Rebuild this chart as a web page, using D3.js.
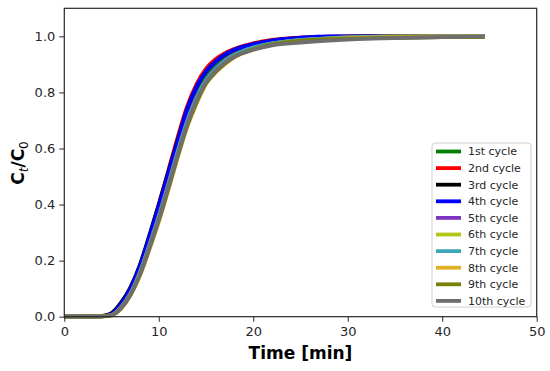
<!DOCTYPE html>
<html>
<head>
<meta charset="utf-8">
<script src="https://cdn.jsdelivr.net/npm/d3@7"></script>
<style>
  body { margin: 0; background: #fff; }
  svg { font-family: "DejaVu Sans", sans-serif; }
</style>
</head>
<body>
<div id="container"></div>
<script>

// time grid (min) shared by all cycles
var times = [0, 2, 4, 5, 6, 7, 8, 9, 10, 11, 12, 13, 14, 15, 16, 17, 18, 20, 22, 25, 28, 31, 35, 40, 44.5];

var cycle1  = [0, 0, 0.002, 0.010, 0.040, 0.095, 0.175, 0.275, 0.385, 0.500, 0.615, 0.725, 0.810, 0.865, 0.900, 0.930, 0.948, 0.968, 0.980, 0.990, 0.995, 0.997, 0.998, 0.999, 1.000];
var cycle2  = [0, 0, 0.002, 0.011, 0.045, 0.100, 0.180, 0.285, 0.400, 0.520, 0.640, 0.750, 0.830, 0.885, 0.918, 0.940, 0.955, 0.975, 0.987, 0.995, 0.999, 1.000, 1.000, 1.000, 1.000];
var cycle3  = [0, 0, 0.003, 0.013, 0.050, 0.105, 0.185, 0.290, 0.400, 0.515, 0.630, 0.740, 0.820, 0.875, 0.910, 0.935, 0.952, 0.972, 0.985, 0.994, 0.998, 1.000, 1.000, 1.000, 1.000];
var cycle4  = [0, 0, 0.002, 0.010, 0.045, 0.100, 0.180, 0.285, 0.395, 0.510, 0.625, 0.740, 0.820, 0.875, 0.910, 0.935, 0.952, 0.972, 0.985, 0.995, 1.000, 1.000, 1.000, 1.000, 1.000];
var cycle5  = [0, 0, 0.001, 0.007, 0.035, 0.085, 0.160, 0.258, 0.362, 0.475, 0.592, 0.700, 0.785, 0.845, 0.885, 0.915, 0.935, 0.960, 0.975, 0.987, 0.993, 0.996, 0.998, 1.000, 1.000];
var cycle6  = [0, 0, 0.001, 0.006, 0.032, 0.080, 0.155, 0.250, 0.352, 0.465, 0.582, 0.690, 0.775, 0.840, 0.880, 0.910, 0.932, 0.958, 0.974, 0.986, 0.993, 0.997, 1.000, 1.000, 1.000];
var cycle7  = [0, 0, 0.001, 0.006, 0.033, 0.082, 0.158, 0.254, 0.357, 0.470, 0.587, 0.695, 0.780, 0.842, 0.882, 0.912, 0.934, 0.960, 0.975, 0.987, 0.993, 0.996, 0.998, 0.999, 1.000];
var cycle8  = [0, 0, 0.001, 0.005, 0.028, 0.075, 0.145, 0.238, 0.338, 0.450, 0.567, 0.675, 0.760, 0.830, 0.870, 0.900, 0.925, 0.952, 0.970, 0.983, 0.990, 0.994, 0.997, 0.999, 1.000];
var cycle9  = [0, 0, 0.001, 0.005, 0.030, 0.078, 0.150, 0.243, 0.343, 0.455, 0.572, 0.680, 0.765, 0.832, 0.872, 0.903, 0.927, 0.954, 0.971, 0.984, 0.990, 0.993, 0.995, 0.997, 0.998];
var cycle10 = [0, 0, 0.001, 0.006, 0.030, 0.078, 0.150, 0.245, 0.347, 0.460, 0.577, 0.685, 0.770, 0.835, 0.876, 0.906, 0.928, 0.952, 0.968, 0.978, 0.985, 0.990, 0.994, 0.997, 1.000];

var names  = ["1st cycle", "2nd cycle", "3rd cycle", "4th cycle", "5th cycle", "6th cycle", "7th cycle", "8th cycle", "9th cycle", "10th cycle"];
var colors = ["#008000", "#ff0000", "#000000", "#0000ff", "#7b35c0", "#b4c414", "#3ea6b6", "#e0b020", "#7a7f0a", "#6e6e6e"];
var allCycles = [cycle1, cycle2, cycle3, cycle4, cycle5, cycle6, cycle7, cycle8, cycle9, cycle10];

var xTicks = [0, 10, 20, 30, 40, 50];
var yTicks = [0.0, 0.2, 0.4, 0.6, 0.8, 1.0];

function render() {
	var width = 550, height = 371;
	var left = 64.3, right = 536.7, top = 8.3, bottom = 316.7;

	var svg = d3.select("#container")
		.append("svg")
		.attr("width", width)
		.attr("height", height);

	var x = d3.scaleLinear().domain([0, 50]).range([left, right]);
	var y = d3.scaleLinear().domain([0, 1.1]).range([bottom, top]);

	var line = d3.line()
		.x(d => x(d[0]))
		.y(d => y(d[1]))
		.curve(d3.curveMonotoneX);

	var plot = svg.append("g");
	allCycles.forEach((vals, i) => {
		var pts = times.map((t, j) => [t, vals[j]]);
		plot.append("path")
			.attr("d", line(pts))
			.attr("fill", "none")
			.attr("stroke", colors[i])
			.attr("stroke-width", 3.8)
			.attr("stroke-linejoin", "round");
	});

	// axes
	var xAxis = svg.append("g")
		.attr("transform", "translate(0," + bottom + ")")
		.call(d3.axisBottom(x).tickValues(xTicks).tickSize(5).tickPadding(5).tickFormat(d3.format("d")));
	var yAxis = svg.append("g")
		.attr("transform", "translate(" + left + ",0)")
		.call(d3.axisLeft(y).tickValues(yTicks).tickSize(5).tickPadding(4).tickFormat(d3.format(".1f")));

	[xAxis, yAxis].forEach(a => {
		a.select(".domain").remove();
		a.selectAll("line").attr("stroke", "#262626").attr("stroke-width", 1);
		a.selectAll("text").attr("fill", "#262626").style("font-size", "13px")
			.style("font-family", "'DejaVu Sans', sans-serif");
	});

	// frame
	svg.append("rect")
		.attr("x", left).attr("y", top)
		.attr("width", right - left).attr("height", bottom - top)
		.attr("fill", "none")
		.attr("stroke", "#262626")
		.attr("stroke-width", 1.2);

	// axis titles
	svg.append("text")
		.attr("x", (left + right) / 2)
		.attr("y", 359)
		.attr("text-anchor", "middle")
		.style("font-size", "17px")
		.style("font-weight", "bold")
		.text("Time [min]");

	var yl = svg.append("text")
		.attr("transform", "translate(24,163) rotate(-90)")
		.attr("text-anchor", "middle")
		.style("font-size", "17px")
		.style("font-weight", "bold");
	yl.append("tspan").text("C");
	yl.append("tspan").attr("dy", 4).style("font-size", "12px").style("font-style", "italic").style("font-weight", "normal").text("t");
	yl.append("tspan").attr("dy", -4).text("/C");
	yl.append("tspan").attr("dy", 4).style("font-size", "12px").style("font-weight", "normal").text("0");

	// legend
	var lg = svg.append("g").attr("transform", "translate(432,143)");
	lg.append("rect")
		.attr("width", 99).attr("height", 164)
		.attr("rx", 3)
		.attr("fill", "#fff")
		.attr("fill-opacity", 0.85)
		.attr("stroke", "#d0d0d0");

	var items = lg.selectAll(".item")
		.data(names)
		.enter()
		.append("g")
		.attr("class", "item")
		.attr("transform", (d, i) => "translate(0," + (8.5 + i * 16.6) + ")");

	items.append("line")
		.attr("x1", 4).attr("x2", 29)
		.attr("stroke", (d, i) => colors[i])
		.attr("stroke-width", 3.8);

	items.append("text")
		.attr("x", 36)
		.attr("dy", "0.35em")
		.style("font-size", "11px")
		.attr("fill", "#262626")
		.text(d => d);
}

render();
</script>
</body>
</html>
